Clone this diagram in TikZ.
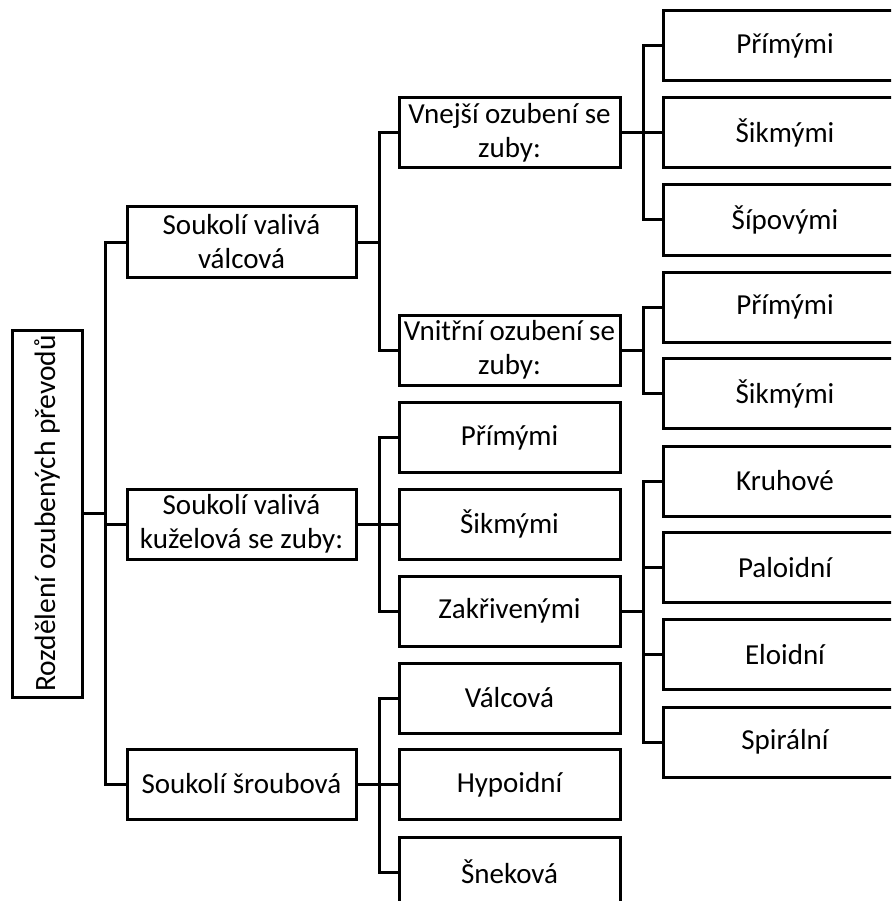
\documentclass[tikz,border=0pt]{standalone}
\usepackage{fontspec}
\setmainfont{Carlito}
\begin{document}
\begin{tikzpicture}[x=1pt,y=-1pt,
  box/.style={draw=black, line width=3pt, fill=white, align=center, inner sep=0pt,
    font=\fontsize{29}{34}\selectfont},
  lbox/.style={box, minimum width=229pt, minimum height=70pt},
  mbox/.style={box, minimum width=221pt, minimum height=70pt},
  rbox/.style={box, minimum width=244pt, minimum height=70pt},
  conn/.style={line width=3pt, line join=miter}]
\useasboundingbox (0,0) rectangle (891,901);
\clip (0,0) rectangle (891,901);
% root
\node[box, minimum width=70pt, minimum height=367pt, font=\fontsize{29.5}{34}\selectfont] (root) at (47,513.5) {\rotatebox{90}{Rozdělení ozubených převodů}};
% level 1
\node[lbox] (A) at (241.5,242) {Soukolí valivá\\válcová};
\node[lbox] (B) at (241.5,524) {Soukolí valivá\\kuželová se zuby:};
\node[lbox] (C) at (241.5,784) {Soukolí šroubová};
% level 2
\node[mbox] (A1) at (509.5,133) {Vnejší ozubení se\\zuby:};
\node[mbox] (A2) at (509.5,350) {Vnitřní ozubení se\\zuby:};
\node[mbox] (B1) at (509.5,437.5) {Přímými};
\node[mbox] (B2) at (509.5,524) {Šikmými};
\node[mbox] (B3) at (509.5,611) {Zakřivenými};
\node[mbox] (C1) at (509.5,698) {Válcová};
\node[mbox] (C2) at (509.5,784.5) {Hypoidní};
\node[mbox] (C3) at (509.5,872) {Šneková};
% level 3
\node[rbox] (A1a) at (785,46) {Přímými};
\node[rbox] (A1b) at (785,133) {Šikmými};
\node[rbox] (A1c) at (785,220) {Šípovými};
\node[rbox] (A2a) at (785,307) {Přímými};
\node[rbox] (A2b) at (785,393.5) {Šikmými};
\node[rbox] (B3a) at (785,481) {Kruhové};
\node[rbox] (B3b) at (785,567.5) {Paloidní};
\node[rbox] (B3c) at (785,654.5) {Eloidní};
\node[rbox] (B3d) at (785,742) {Spirální};
% connectors
\foreach \p/\c in {root/A, root/B, root/C,
  A/A1, A/A2, B/B1, B/B2, B/B3, C/C1, C/C2, C/C3,
  A1/A1a, A1/A1b, A1/A1c, A2/A2a, A2/A2b,
  B3/B3a, B3/B3b, B3/B3c, B3/B3d}
  \draw[conn] (\p.east) -- ++(22,0) |- (\c.west);
\end{tikzpicture}
\end{document}
